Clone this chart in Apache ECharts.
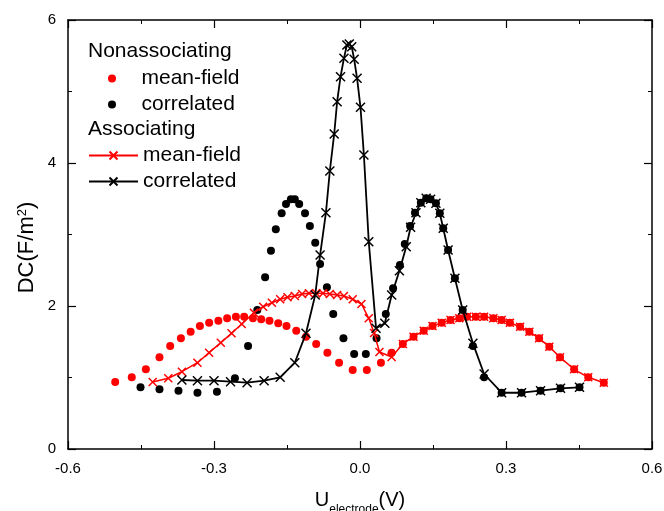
<!DOCTYPE html>
<html>
<head>
<meta charset="utf-8">
<script src="https://cdn.jsdelivr.net/npm/echarts@6/dist/echarts.min.js"></script>
<style>
html,body{margin:0;padding:0;background:#fff;}
#main{width:664px;height:511px;}
</style>
</head>
<body>
<div id="main"></div>
<script>
// ---- Data ----
const xTicks = [-0.6, -0.3, 0.0, 0.3, 0.6];
const yTicks = [0, 2, 4, 6];

// Nonassociating, mean-field (red dots)
const nonMF_x = [-0.503,-0.469,-0.440,-0.412,-0.390,-0.368,-0.348,-0.329,-0.310,-0.291,-0.273,-0.255,-0.238,-0.220,-0.203,-0.186,-0.168,-0.151,-0.131,-0.111,-0.090,-0.067,-0.043,-0.015,0.014,0.043,0.065,0.088,0.110,0.131,0.149,0.168,0.186,0.204,0.220,0.238,0.255,0.274,0.291,0.308,0.329,0.348,0.368,0.389,0.411,0.440,0.469,0.501];
const nonMF_y = [0.937,1.003,1.115,1.282,1.441,1.548,1.641,1.720,1.766,1.794,1.828,1.850,1.850,1.828,1.814,1.794,1.758,1.720,1.655,1.571,1.469,1.347,1.207,1.105,1.105,1.207,1.347,1.469,1.571,1.655,1.720,1.766,1.804,1.828,1.850,1.850,1.850,1.828,1.804,1.766,1.710,1.641,1.548,1.431,1.282,1.115,1.003,0.927];

// Nonassociating, correlated (black dots)
const nonCor_x = [-0.451,-0.412,-0.373,-0.334,-0.294,-0.257,-0.230,-0.211,-0.195,-0.183,-0.173,-0.161,-0.152,-0.142,-0.134,-0.125,-0.113,-0.103,-0.092,-0.082,-0.068,-0.055,-0.034,-0.012,0.012,0.034,0.053,0.068,0.082,0.092,0.103,0.113,0.125,0.136,0.145,0.156,0.164,0.171,0.181,0.195,0.211,0.232,0.255,0.291,0.332,0.371,0.412,0.451];
const nonCor_y = [0.863,0.835,0.815,0.787,0.801,0.989,1.441,1.944,2.401,2.773,3.073,3.297,3.427,3.492,3.492,3.427,3.297,3.119,2.885,2.587,2.262,1.888,1.548,1.329,1.329,1.548,1.888,2.248,2.573,2.867,3.119,3.305,3.445,3.506,3.492,3.436,3.297,3.087,2.783,2.387,1.944,1.441,1.003,0.787,0.787,0.815,0.849,0.863];

// Associating, mean-field (red line with crosses)
const assMF_x = [-0.426,-0.394,-0.366,-0.334,-0.310,-0.286,-0.264,-0.243,-0.218,-0.199,-0.181,-0.164,-0.149,-0.134,-0.119,-0.105,-0.090,-0.076,-0.062,-0.047,-0.033,-0.015,0.003,0.018,0.029,0.040,0.065,0.088,0.110,0.131,0.149,0.168,0.186,0.204,0.220,0.238,0.255,0.274,0.291,0.308,0.329,0.348,0.368,0.389,0.411,0.440,0.469,0.501];
const assMF_y = [0.937,0.989,1.081,1.207,1.347,1.487,1.618,1.748,1.906,1.990,2.046,2.094,2.122,2.140,2.168,2.178,2.178,2.178,2.168,2.154,2.140,2.094,2.028,1.828,1.622,1.357,1.287,1.469,1.571,1.655,1.720,1.766,1.804,1.828,1.850,1.850,1.850,1.828,1.804,1.766,1.710,1.641,1.548,1.431,1.282,1.115,1.003,0.927];

// Associating, correlated (black line with crosses)
const assCor_x = [-0.366,-0.334,-0.300,-0.266,-0.232,-0.197,-0.164,-0.134,-0.111,-0.092,-0.082,-0.070,-0.062,-0.053,-0.047,-0.040,-0.033,-0.027,-0.022,-0.017,-0.012,-0.006,0.001,0.008,0.018,0.033,0.051,0.065,0.081,0.095,0.104,0.115,0.125,0.136,0.145,0.156,0.164,0.171,0.181,0.195,0.211,0.232,0.255,0.291,0.332,0.371,0.412,0.451];
const assCor_y = [0.965,0.955,0.955,0.941,0.927,0.955,1.003,1.207,1.618,2.154,2.713,3.305,3.888,4.406,4.857,5.207,5.464,5.650,5.664,5.627,5.450,5.185,4.779,4.112,2.899,1.688,1.758,2.154,2.494,2.829,3.101,3.305,3.445,3.506,3.492,3.436,3.297,3.087,2.783,2.387,1.944,1.478,1.049,0.787,0.787,0.815,0.849,0.863];

const zip = (xs, ys) => xs.map((x, i) => [x, ys[i]]);

const FONT = '"Liberation Sans", Arial, Helvetica, sans-serif';
const CROSS = 'path://M0,0L10,10M10,0L0,10';

const chart = echarts.init(document.getElementById('main'), null, {renderer: 'canvas'});

const axisCommon = {
  axisLine: {show: true, onZero: false, lineStyle: {color: '#000', width: 1.5}},
  axisTick: {show: true, inside: true, length: 8, lineStyle: {color: '#000', width: 1.2}},
  minorTick: {show: true, splitNumber: 2, length: 4, lineStyle: {color: '#000', width: 1}},
  splitLine: {show: false}
};

chart.setOption({
  animation: false,
  backgroundColor: '#fff',
  textStyle: {fontFamily: FONT},
  grid: {left: 68, right: 12, top: 20, bottom: 62, containLabel: false, outerBoundsMode: 'none'},
  xAxis: [
    Object.assign({}, axisCommon, {
      type: 'value', position: 'bottom',
      min: xTicks[0], max: xTicks[xTicks.length - 1], interval: 0.3,
      axisLabel: {color: '#000', fontSize: 15, fontFamily: FONT, margin: 12,
        formatter: v => v.toFixed(1)},
      name: '{u|U}{s|electrode}{u|(V)}',
      nameLocation: 'middle', nameGap: 41, nameMoveOverlap: false,
      nameTextStyle: {
        color: '#000', fontFamily: FONT,
        rich: {
          u: {fontSize: 20, fontFamily: FONT, color: '#000', lineHeight: 26, verticalAlign: 'top'},
          s: {fontSize: 12, fontFamily: FONT, color: '#000', lineHeight: 12, verticalAlign: 'bottom'}
        }
      }
    }),
    Object.assign({}, axisCommon, {
      type: 'value', position: 'top',
      min: xTicks[0], max: xTicks[xTicks.length - 1], interval: 0.3,
      axisLabel: {show: false}
    })
  ],
  yAxis: [
    Object.assign({}, axisCommon, {
      type: 'value', position: 'left',
      min: yTicks[0], max: yTicks[yTicks.length - 1], interval: 2,
      axisLabel: {color: '#000', fontSize: 15, fontFamily: FONT, margin: 12},
      name: 'DC(F/m{sup|2})',
      nameLocation: 'middle', nameGap: 30, nameRotate: 90, nameMoveOverlap: false,
      nameTextStyle: {
        color: '#000', fontSize: 22, fontFamily: FONT, padding: [0, 26, 0, 0],
        rich: {sup: {fontSize: 13, fontFamily: FONT, color: '#000', verticalAlign: 'top', lineHeight: 22}}
      }
    }),
    Object.assign({}, axisCommon, {
      type: 'value', position: 'right',
      min: yTicks[0], max: yTicks[yTicks.length - 1], interval: 2,
      axisLabel: {show: false}
    })
  ],
  graphic: [
    {type: 'text', left: 88, top: 41, style: {text: 'Nonassociating', fill: '#000', font: '21px ' + FONT}},
    {type: 'text', left: 88, top: 119, style: {text: 'Associating', fill: '#000', font: '21px ' + FONT}}
  ],
  legend: [
    {
      data: ['Nonassociating mean-field', 'Nonassociating correlated'],
      orient: 'vertical', left: 108, top: 68, padding: 0, itemGap: 5,
      itemWidth: 49, itemHeight: 8,
      formatter: n => n.split(' ')[1],
      textStyle: {color: '#000', fontSize: 21, fontFamily: FONT, lineHeight: 21},
      selectedMode: false
    },
    {
      data: ['Associating mean-field', 'Associating correlated'],
      orient: 'vertical', left: 88, top: 145, padding: 0, itemGap: 5,
      itemWidth: 49, itemHeight: 10,
      formatter: n => n.split(' ')[1],
      textStyle: {color: '#000', fontSize: 21, fontFamily: FONT, lineHeight: 21},
      selectedMode: false
    }
  ],
  series: [
    {
      name: 'Nonassociating mean-field', type: 'scatter',
      data: zip(nonMF_x, nonMF_y), symbol: 'circle', symbolSize: 8,
      itemStyle: {color: '#ff0000', opacity: 1}, z: 2
    },
    {
      name: 'Nonassociating correlated', type: 'scatter',
      data: zip(nonCor_x, nonCor_y), symbol: 'circle', symbolSize: 8,
      itemStyle: {color: '#000', opacity: 1}, z: 2
    },
    {
      name: 'Associating mean-field', type: 'line',
      data: zip(assMF_x, assMF_y), symbol: CROSS, symbolSize: 8, showSymbol: true,
      lineStyle: {color: '#ff0000', width: 1.5},
      itemStyle: {color: '#ff0000', borderColor: '#ff0000', borderWidth: 1.5}, z: 3
    },
    {
      name: 'Associating correlated', type: 'line',
      data: zip(assCor_x, assCor_y), symbol: CROSS, symbolSize: 9, showSymbol: true,
      lineStyle: {color: '#000', width: 1.8},
      itemStyle: {color: '#000', borderColor: '#000', borderWidth: 1.5}, z: 4
    }
  ]
});
</script>
</body>
</html>
